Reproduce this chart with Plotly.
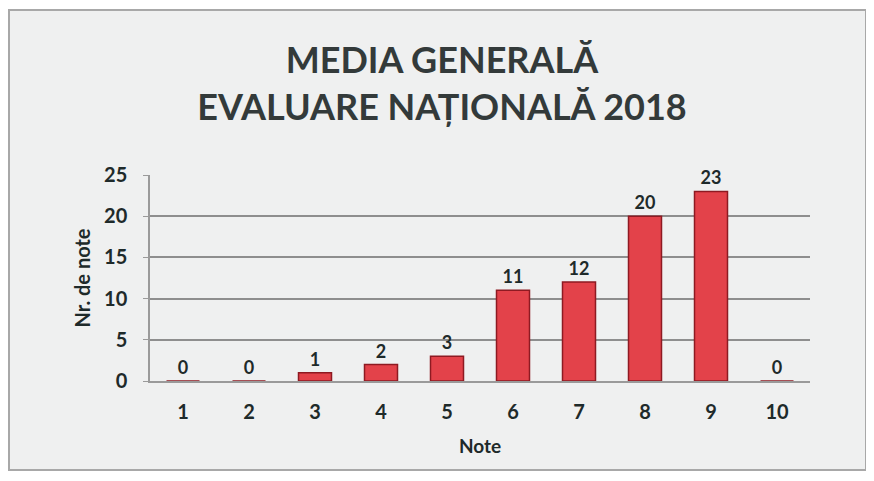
import plotly.graph_objects as go

categories = ["1", "2", "3", "4", "5", "6", "7", "8", "9", "10"]
values = [0, 0, 1, 2, 3, 11, 12, 20, 23, 0]
y_ticks = [0, 5, 10, 15, 20, 25]

title_text = "MEDIA GENERALĂ<br>EVALUARE NAȚIONALĂ 2018"
x_title = "Note"
y_title = "Nr. de note"

FONT = "Lato"
TXT = "#1e2a2a"

# page has an 8px body margin: figure is drawn in a 866x473 box offset by 8px
W, H = 866, 473
L, R, T, B = 142, 64, 167, 100
PW, PH = W - L - R, H - T - B

fig = go.Figure()
fig.add_trace(go.Bar(
    x=categories,
    y=values,
    width=0.5,
    marker=dict(color="#e3424a", line=dict(color="#8e1a22", width=1.5)),
    text=[str(v) for v in values],
    textposition="outside",
    cliponaxis=False,
    textfont=dict(family=FONT, size=18, color=TXT, weight="bold"),
))

fig.update_layout(
    width=W, height=H,
    margin=dict(l=L, r=R, t=T, b=B, autoexpand=False),
    paper_bgcolor="#ffffff",
    plot_bgcolor="rgba(0,0,0,0)",
    showlegend=False,
    title=dict(
        text=title_text,
        font=dict(family=FONT, size=36, color="#333a3a", weight="bold"),
        x=(434 - L) / PW, xanchor="center", xref="paper",
        y=1 - 65 / H, yanchor="middle", yref="container",
    ),
    xaxis=dict(
        type="category",
        title=dict(text=x_title, font=dict(family=FONT, size=19, color=TXT, weight="bold"), standoff=18),
        tickfont=dict(family=FONT, size=20, color=TXT, weight="bold"),
        ticks="", showgrid=False,
        showline=True, linecolor="#9a9a9a", linewidth=1.5,
        ticklabelstandoff=12,
    ),
    yaxis=dict(
        range=[0, 25],
        tickvals=y_ticks,
        title=dict(text=y_title, font=dict(family=FONT, size=20, color=TXT, weight="bold"), standoff=8),
        tickfont=dict(family=FONT, size=20, color=TXT, weight="bold"),
        showgrid=True, gridcolor="#8e8e8e", gridwidth=1.5,
        showline=True, linecolor="#9a9a9a", linewidth=1.5,
        ticks="outside", ticklen=5, tickcolor="#9a9a9a",
        ticklabelstandoff=12,
        zeroline=False,
    ),
    shapes=[dict(
        type="rect", xref="paper", yref="paper",
        x0=(1 - L) / PW, x1=(858 - L) / PW,
        y0=(T + PH - 462) / PH, y1=(T + PH - 2) / PH,
        line=dict(color="#a8a8a8", width=2), fillcolor="#eff0f0", layer="below",
    )],
)

fig.write_html("out.html")
